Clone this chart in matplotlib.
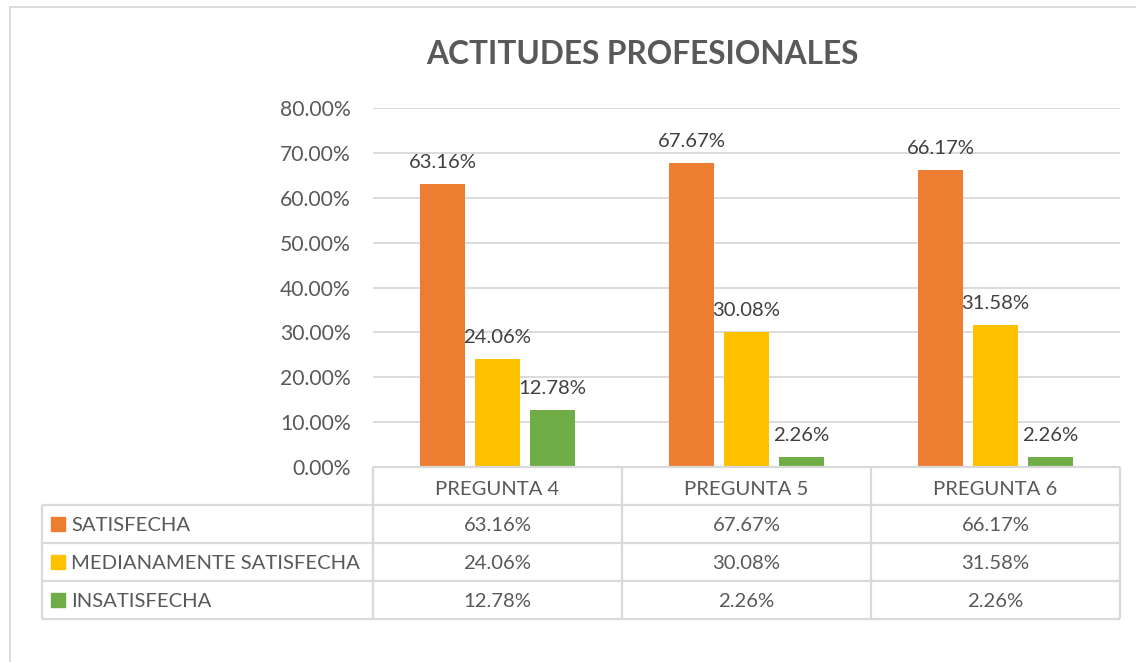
import numpy as np
import matplotlib
matplotlib.use("Agg")
import matplotlib.pyplot as plt
from matplotlib.patches import Rectangle

plt.rcParams["font.family"] = ["Lato", "DejaVu Sans"]

TITLE = "ACTITUDES PROFESIONALES"
categories = ["PREGUNTA 4", "PREGUNTA 5", "PREGUNTA 6"]
series_names = ["SATISFECHA", "MEDIANAMENTE SATISFECHA", "INSATISFECHA"]
satisfecha = [0.6316, 0.6767, 0.6617]
medianamente = [0.2406, 0.3008, 0.3158]
insatisfecha = [0.1278, 0.0226, 0.0226]
yticks = [0.0, 0.1, 0.2, 0.3, 0.4, 0.5, 0.6, 0.7, 0.8]

values = [satisfecha, medianamente, insatisfecha]
colors = ["#ED7D31", "#FFC000", "#70AD47"]
TXT = "#595959"
GRID = "#D9D9D9"
FS = 14.6

W, H = 1136, 662
def fx(px):
    return px / W
def fy(py):
    return 1 - py / H

fig = plt.figure(figsize=(W / 100, H / 100), dpi=100)

# chart outer border (only left and top visible)
fig.patches.append(Rectangle((fx(10), -0.1), 1.2, fy(7) + 0.1, transform=fig.transFigure,
                             fill=False, edgecolor=GRID, lw=1.3))

fig.text(fx(642), fy(64), TITLE, ha="center", va="baseline",
         fontsize=22.8, fontweight="bold", color=TXT)

# bars
ax = fig.add_axes([fx(373), fy(467), (1120 - 373) / W, (467 - 108) / H])
x = np.arange(len(categories))
bw, step = 0.177, 0.221
for i, (vals, c) in enumerate(zip(values, colors)):
    bars = ax.bar(x + (i - 1) * step, vals, width=bw, color=c, zorder=3)
    for b, v in zip(bars, vals):
        ax.annotate(f"{v * 100:.2f}%", (b.get_x() + b.get_width() / 2, v),
                    xytext=(0, 11.5), textcoords="offset points",
                    ha="center", va="baseline", fontsize=FS, color="#404040")

ax.set_xlim(-0.5, 2.5)
ax.set_ylim(0, 0.8)
ax.set_yticks(yticks)
ax.set_yticklabels([f"{t * 100:.2f}%" for t in yticks])
ax.set_xticks([])
ax.tick_params(axis="y", length=0, pad=16, labelsize=15.2, labelcolor=TXT)
for s in ax.spines.values():
    s.set_visible(False)
ax.grid(axis="y", color=GRID, lw=1.3, zorder=0)

# data table
px_unit = (1120 - 373) / 3
L = -0.5 - (373 - 42) / px_unit
tab = fig.add_axes([fx(42), fy(619), (1120 - 42) / W, (619 - 467) / H])
tab.set_xlim(L, 2.5)
tab.set_ylim(4, 0)
tab.axis("off")
lk = dict(color=GRID, lw=1.6, clip_on=False)
tab.hlines(0, -0.5, 2.5, **lk)
tab.hlines([1, 2, 3, 4], L, 2.5, **lk)
tab.vlines([-0.5, 0.5, 1.5, 2.5], 0, 4, **lk)
tab.vlines(L, 1, 4, **lk)

for j, cat in enumerate(categories):
    tab.text(j, 28 / 38, cat, ha="center", va="baseline", fontsize=FS, color=TXT)

for i, (name, vals, c) in enumerate(zip(series_names, values, colors)):
    row = i + 1
    tab.add_patch(Rectangle((L + 9 / px_unit, row + 0.5 - 7 / 38), 14 / px_unit, 14 / 38,
                            color=c, clip_on=False))
    tab.text(L + 29 / px_unit, row + 26 / 38, name, ha="left", va="baseline",
             fontsize=FS, color=TXT)
    for j, v in enumerate(vals):
        tab.text(j, row + 26 / 38, f"{v * 100:.2f}%", ha="center", va="baseline",
                 fontsize=FS, color=TXT)

fig.savefig("out.png", dpi=100)
